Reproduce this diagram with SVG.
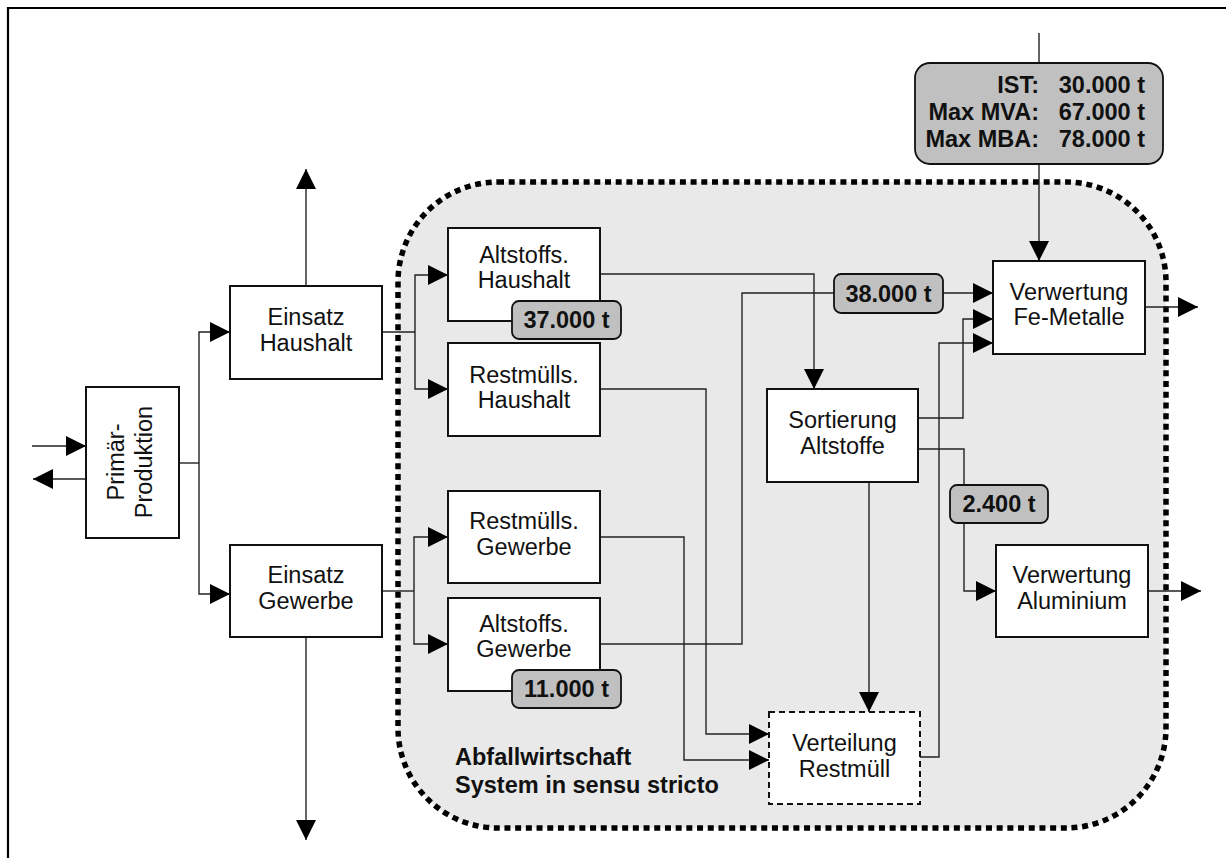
<svg xmlns="http://www.w3.org/2000/svg" width="1226" height="858" viewBox="0 0 1226 858">
<defs>
<marker id="arr" markerUnits="userSpaceOnUse" markerWidth="20" markerHeight="20" refX="20" refY="10" orient="auto" viewBox="0 0 20 20">
<path d="M0,0 L20,10 L0,20 Z" fill="#000"/>
</marker>
</defs>
<style>
.box{fill:#fff;stroke:#111;stroke-width:2}
.dbox{fill:#fff;stroke:#111;stroke-width:2;stroke-dasharray:6 4}
.lbl{fill:#c0c0c0;stroke:#111;stroke-width:1.8}
.t{font-family:"Liberation Sans",Arial,sans-serif;font-size:23.5px;fill:#111;text-anchor:middle}
.b{font-family:"Liberation Sans",Arial,sans-serif;font-size:23.5px;font-weight:bold;fill:#111}
.c{fill:none;stroke:#222;stroke-width:1.4}
.a{marker-end:url(#arr)}
</style>
<rect width="1226" height="858" fill="#fff"/>
<path d="M8,858 V8 H1226" fill="none" stroke="#000" stroke-width="2.2"/>
<g id="system">
<rect x="398" y="182" width="768" height="646" rx="100" ry="100" fill="#e9e9e9" stroke="#000" stroke-width="5.5" stroke-dasharray="6 4.7"/>
<text class="b" x="455" y="765">Abfallwirtschaft</text>
<text class="b" x="455" y="793">System in sensu stricto</text>
</g>
<g id="connectors">
<path class="c a" d="M32,446 H86"/>
<path class="c a" d="M86,479 H33"/>
<path class="c" d="M179,463 H199"/>
<path class="c a" d="M199,463 V332 H230"/>
<path class="c a" d="M199,463 V594 H230"/>
<path class="c a" d="M306,286 V169"/>
<path class="c a" d="M306,637 V840"/>
<path class="c" d="M382,332 H415"/>
<path class="c a" d="M415,332 V275 H448"/>
<path class="c a" d="M415,332 V389 H448"/>
<path class="c" d="M382,591 H414"/>
<path class="c a" d="M414,591 V537 H448"/>
<path class="c a" d="M414,591 V644 H448"/>
<path class="c a" d="M600,274 H814 V389"/>
<path class="c a" d="M600,389 H706 V734 H769"/>
<path class="c a" d="M600,537 H684 V760 H769"/>
<path class="c a" d="M600,644 H742 V293 H993"/>
<path class="c a" d="M918,418 H963 V319 H993"/>
<path class="c a" d="M920,757 H939 V343 H993"/>
<path class="c a" d="M918,449 H964 V591 H996"/>
<path class="c a" d="M869,482 V712"/>
<path class="c a" d="M1039,33 V261"/>
<path class="c a" d="M1145,307 H1198"/>
<path class="c a" d="M1148,591 H1201"/>
</g>
<g id="primaer">
<rect class="box" x="86" y="387" width="93" height="151"/>
<g transform="translate(132.5,462) rotate(-90)">
<text class="t" x="0" y="-8.5">Primär-</text>
<text class="t" x="0" y="19">Produktion</text>
</g>
</g>
<g id="einsatz-haushalt">
<rect class="box" x="230" y="286" width="152" height="93"/>
<text class="t" x="306" y="324.5">Einsatz</text>
<text class="t" x="306" y="350.5">Haushalt</text>
</g>
<g id="einsatz-gewerbe">
<rect class="box" x="230" y="545" width="152" height="92"/>
<text class="t" x="306" y="583">Einsatz</text>
<text class="t" x="306" y="609">Gewerbe</text>
</g>
<g id="altstoffs-haushalt">
<rect class="box" x="448" y="228" width="152" height="93"/>
<text class="t" x="524" y="262.5">Altstoffs.</text>
<text class="t" x="524" y="288">Haushalt</text>
<rect class="lbl" x="512" y="301" width="109" height="38" rx="7"/>
<text class="b" x="566.5" y="328" text-anchor="middle">37.000 t</text>
</g>
<g id="restmuells-haushalt">
<rect class="box" x="448" y="343" width="152" height="93"/>
<text class="t" x="524" y="382.5">Restmülls.</text>
<text class="t" x="524" y="408">Haushalt</text>
</g>
<g id="restmuells-gewerbe">
<rect class="box" x="448" y="491" width="152" height="92"/>
<text class="t" x="524" y="529">Restmülls.</text>
<text class="t" x="524" y="555">Gewerbe</text>
</g>
<g id="altstoffs-gewerbe">
<rect class="box" x="448" y="598" width="152" height="93"/>
<text class="t" x="524" y="632">Altstoffs.</text>
<text class="t" x="524" y="657">Gewerbe</text>
<rect class="lbl" x="512" y="670" width="109" height="38" rx="7"/>
<text class="b" x="566.5" y="697" text-anchor="middle">11.000 t</text>
</g>
<g id="sortierung">
<rect class="box" x="767" y="389" width="151" height="93"/>
<text class="t" x="842.5" y="427.5">Sortierung</text>
<text class="t" x="842.5" y="453.5">Altstoffe</text>
</g>
<g id="verteilung">
<rect class="dbox" x="769" y="712" width="151" height="92"/>
<text class="t" x="844.5" y="750.5">Verteilung</text>
<text class="t" x="844.5" y="776.5">Restmüll</text>
</g>
<g id="fe-metalle">
<rect class="box" x="993" y="261" width="152" height="93"/>
<text class="t" x="1069" y="300">Verwertung</text>
<text class="t" x="1069" y="325">Fe-Metalle</text>
</g>
<g id="aluminium">
<rect class="box" x="996" y="545" width="152" height="92"/>
<text class="t" x="1072" y="583">Verwertung</text>
<text class="t" x="1072" y="609">Aluminium</text>
</g>
<g id="label-38000">
<rect class="lbl" x="834" y="274" width="109" height="39" rx="7"/>
<text class="b" x="888.5" y="302" text-anchor="middle">38.000 t</text>
</g>
<g id="label-2400">
<rect class="lbl" x="950" y="485" width="98" height="38" rx="7"/>
<text class="b" x="999" y="512" text-anchor="middle">2.400 t</text>
</g>
<g id="ist-box">
<rect class="lbl" x="915" y="63" width="248" height="101" rx="15"/>
<text class="b" x="1039" y="93" text-anchor="end">IST:</text>
<text class="b" x="1145" y="93" text-anchor="end">30.000 t</text>
<text class="b" x="1039" y="120" text-anchor="end">Max MVA:</text>
<text class="b" x="1145" y="120" text-anchor="end">67.000 t</text>
<text class="b" x="1039" y="147" text-anchor="end">Max MBA:</text>
<text class="b" x="1145" y="147" text-anchor="end">78.000 t</text>
</g>
</svg>
